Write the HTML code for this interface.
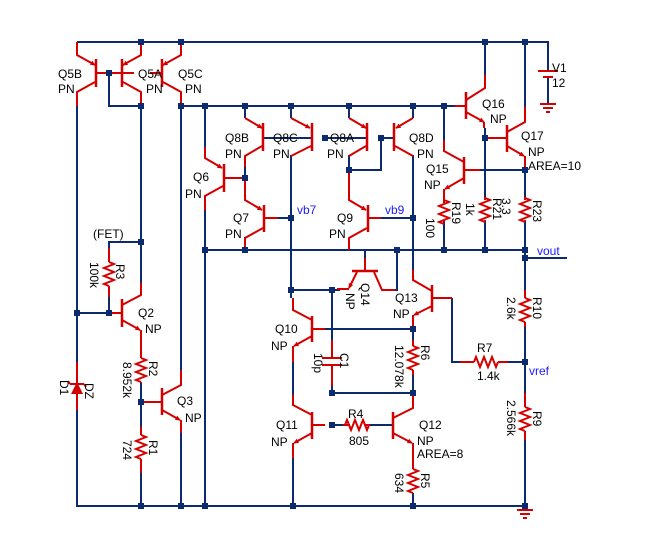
<!DOCTYPE html>
<html><head><meta charset="utf-8"><style>
html,body{margin:0;padding:0;background:#fff}
svg{display:block}
text{font-family:"Liberation Sans",Arial,sans-serif;font-size:12px;fill:#000}
.b{fill:none;stroke:#0c2a6e;stroke-width:2}
.r{fill:none;stroke:#d40000;stroke-width:2}
.bar{stroke:#d40000;stroke-width:2.5}
.l{fill:#1a1aff}
</style></head><body>
<svg width="650" height="550" viewBox="0 0 650 550" xmlns="http://www.w3.org/2000/svg">
<defs>
<marker id="a" viewBox="0 0 10 10" refX="9" refY="5" markerWidth="5" markerHeight="5" orient="auto" markerUnits="userSpaceOnUse"><path d="M0,0 L10,5 L0,10z" fill="#d40000"/></marker>
<path id="rv" d="M0,0 l5,2 l-10,4 l10,4 l-10,4 l10,4 l-10,4 l5,2" fill="none" stroke="#d40000" stroke-width="2"/>
<path id="rh" d="M0,0 l2,-5 l4,10 l4,-10 l4,10 l4,-10 l4,10 l2,-5" fill="none" stroke="#d40000" stroke-width="2"/>
<rect id="j" x="-3" y="-3" width="6" height="6" fill="#0c2a6e"/>
</defs>

<!-- blue wires -->
<path class="b" d="M77,42 H548 V71 M548,77 V104
M77,106 V506 H525 V510
M109,73 V106 H141 M141,106 V283 M141,242 H109 V248
M181,92 V370 M181,433 V506
M181,106 H455
M205,106 V147 M205,210 V506
M245,106 V118 M291,106 V118 M349,106 V118 M413,106 V118
M245,167 V200 M245,237 V250
M205,250 H525
M291,155 V298 M291,290 H340 M332,290 V340 M332,386 V393 H413 M332,425 H343 M370,425 H393
M349,155 V200 M349,170 H381 V138 M381,138 H394 M325,138 H367 M263,138 H312
M278,218 H291 M381,218 H413 M413,155 V280
M293,362 V395 M293,458 V506
M325,329 H413 M413,329 V340 M413,375 V393 M413,458 V469 M413,493 V506
M452,298 V362 H460 M508,362 H525
M525,258 H567 M525,250 V290 M525,327 V393 M525,440 V506
M365,250 V258 M395,290 H397 V250
M485,42 V75 M485,128 V197 M485,222 V250 M525,42 V107 M525,168 V197 M525,222 V258
M444,106 V140 M444,222 V250 M480,170 H525
M109,297 V313 M77,313 H109 M77,313 V362 M77,410 V506
M141,402 V427 M141,473 V506 M141,383 V402
"/>
<!-- ground symbols -->
<path class="r" d="M540,104 H556 M543,108 H553 M546,112 H550 M517,510 H533 M520,514 H530 M523,518 H527"/>
<!-- V1 -->
<path class="r" d="M538,71 H558 M543,77 H553"/>
<path class="b" d="M548,71 V77" style="stroke:none"/>

<!-- transistors (red) -->
<g class="r">
<!-- Q5B -->
<path d="M77,42 V55 L95,65" marker-end="url(#a)"/><path d="M95,82 L77,92 V106"/><path d="M96,73 H109"/>
<!-- Q5A -->
<path d="M141,42 V55 L123,65" marker-end="url(#a)"/><path d="M123,82 L141,92 V106"/>
<!-- Q5C -->
<path d="M181,42 V55 L163,65" marker-end="url(#a)"/><path d="M163,82 L181,92 V106"/>
<path d="M109,73 H122 M122,73 H134 M150,73 H162"/>
<!-- Q8B -->
<path d="M245,118 L262,128" marker-end="url(#a)"/><path d="M262,146 L245,156 V167"/>
<!-- Q8C -->
<path d="M291,118 L310,128" marker-end="url(#a)"/><path d="M311,146 L291,156"/>
<!-- Q8A -->
<path d="M349,118 L366,128" marker-end="url(#a)"/><path d="M366,146 L349,156"/>
<!-- Q8D -->
<path d="M413,118 L396,128" marker-end="url(#a)"/><path d="M395,146 L413,156"/>
<!-- Q6 -->
<path d="M205,147 V158 L222,168" marker-end="url(#a)"/><path d="M223,186 L205,196 V210"/><path d="M224,178 H245"/>
<!-- Q7 -->
<path d="M245,178 V200 L262,210" marker-end="url(#a)"/><path d="M263,228 L245,238 V250"/><path d="M264,218 H278"/>
<!-- Q9 -->
<path d="M349,170 V200 L366,210" marker-end="url(#a)"/><path d="M367,228 L349,238 V250"/><path d="M368,218 H381"/>
<!-- Q16 -->
<path d="M485,75 V88 L466,100"/><path d="M466,112 L484,122" marker-end="url(#a)"/><path d="M484,122 V128"/><path d="M455,106 H466"/>
<!-- Q17 -->
<path d="M525,107 V122 L507,132"/><path d="M507,146 L524,156" marker-end="url(#a)"/><path d="M525,156 V168"/><path d="M485,138 H507"/>
<!-- Q15 -->
<path d="M444,140 V151 L464,162"/><path d="M464,178 L445,189" marker-end="url(#a)"/><path d="M444,189 V197"/><path d="M464,170 H480"/>
<!-- Q14 -->
<path d="M365,258 V271"/><path d="M357,272 L349,288" marker-end="url(#a)"/><path d="M349,289 H337"/><path d="M374,272 L382,290 H395"/>
<!-- Q13 -->
<path d="M413,270 V280 L432,291"/><path d="M432,306 L414,315" marker-end="url(#a)"/><path d="M413,315 V329"/><path d="M432,298 H452"/>
<!-- Q10 -->
<path d="M293,298 V310 L312,320"/><path d="M312,336 L294,346" marker-end="url(#a)"/><path d="M293,346 V362"/><path d="M312,329 H325"/>
<!-- Q11 -->
<path d="M293,395 V405 L312,415"/><path d="M312,433 L294,443" marker-end="url(#a)"/><path d="M293,443 V458"/><path d="M312,425 H325"/>
<!-- Q12 -->
<path d="M393,418 L413,408 V393"/><path d="M393,433 L412,443" marker-end="url(#a)"/><path d="M413,443 V458 M413,458 V469"/>
<!-- Q2 -->
<path d="M141,283 V295 L122,305"/><path d="M122,320 L140,330" marker-end="url(#a)"/><path d="M141,330 V358"/><path d="M109,313 H122"/>
<!-- Q3 -->
<path d="M181,370 V385 L162,395"/><path d="M162,410 L180,420" marker-end="url(#a)"/><path d="M181,420 V433"/><path d="M141,402 H162"/>
<!-- C1 -->
<path d="M332,340 V358 M322,358 H342 M322,365 H342 M332,365 V386"/>
<!-- D1 -->
<path d="M77,362 V410 M70,384 H84 M70,384 l-2,-3 M84,384 l2,3"/>
<!-- resistor leads -->
<path d="M109,248 V262 M109,286 V297 M141,382 V383 M141,427 V435 M141,459 V473 M525,290 V298 M525,322 V327 M525,393 V407 M525,431 V440 M413,340 V346 M413,370 V375 M460,362 H474 M498,362 H508 M343,425 H350 M365,425 H370 M444,197 V203 M444,220 V222 M485,197 V200 M485,220 V222 M525,197 V200 M525,220 V222"/>
</g>
<path d="M71,394 H83 L77,382z" fill="#d40000"/>
<!-- bars -->
<g class="bar">
<path d="M96,59 V87 M122,59 V87 M162,59 V87 M263,123 V151 M312,123 V151 M367,123 V151 M394,123 V151
M224,164 V192 M264,205 V232 M368,205 V232 M466,92 V119 M507,125 V152 M464,157 V184
M352,271 H378 M432,285 V312 M312,316 V342 M312,412 V439 M393,412 V439 M122,299 V327 M162,388 V415"/>
</g>
<!-- resistors -->
<use href="#rv" x="109" y="262"/>
<use href="#rv" x="141" y="358"/>
<use href="#rv" x="141" y="435"/>
<use href="#rv" x="444" y="200"/>
<use href="#rv" x="485" y="198"/>
<use href="#rv" x="525" y="198"/>
<use href="#rv" x="525" y="298"/>
<use href="#rv" x="525" y="407"/>
<use href="#rv" x="413" y="346"/>
<use href="#rv" x="413" y="469"/>
<use href="#rh" x="474" y="362"/>
<use href="#rh" x="345" y="425"/>
<!-- junctions -->
<g>
<use href="#j" x="141" y="42"/><use href="#j" x="181" y="42"/><use href="#j" x="485" y="42"/><use href="#j" x="525" y="42"/>
<use href="#j" x="109" y="73"/><use href="#j" x="141" y="106"/><use href="#j" x="181" y="106"/><use href="#j" x="205" y="106"/><use href="#j" x="245" y="106"/><use href="#j" x="291" y="106"/><use href="#j" x="349" y="106"/><use href="#j" x="413" y="106"/><use href="#j" x="444" y="106"/>
<use href="#j" x="325" y="138"/><use href="#j" x="381" y="138"/><use href="#j" x="485" y="138"/><use href="#j" x="349" y="170"/><use href="#j" x="525" y="170"/><use href="#j" x="245" y="178"/>
<use href="#j" x="291" y="218"/><use href="#j" x="413" y="218"/><use href="#j" x="141" y="242"/>
<use href="#j" x="205" y="250"/><use href="#j" x="245" y="250"/><use href="#j" x="397" y="250"/><use href="#j" x="444" y="250"/><use href="#j" x="485" y="250"/><use href="#j" x="525" y="250"/><use href="#j" x="525" y="258"/>
<use href="#j" x="291" y="290"/><use href="#j" x="332" y="290"/><use href="#j" x="77" y="313"/><use href="#j" x="109" y="313"/><use href="#j" x="413" y="329"/><use href="#j" x="525" y="362"/>
<use href="#j" x="141" y="402"/><use href="#j" x="332" y="393"/><use href="#j" x="413" y="393"/><use href="#j" x="332" y="425"/>
<use href="#j" x="141" y="506"/><use href="#j" x="181" y="506"/><use href="#j" x="205" y="506"/><use href="#j" x="293" y="506"/><use href="#j" x="413" y="506"/><use href="#j" x="525" y="506"/>
</g>
<!-- labels -->
<text x="58" y="78">Q5B</text><text x="58" y="93">PN</text>
<text x="138" y="78">Q5A</text><text x="146" y="93">PN</text>
<text x="178" y="78">Q5C</text><text x="185" y="93">PN</text>
<text x="225" y="142">Q8B</text><text x="225" y="158">PN</text>
<text x="273" y="142">Q8C</text><text x="273" y="158">PN</text>
<text x="330" y="142">Q8A</text><text x="327" y="158">PN</text>
<text x="409" y="142">Q8D</text><text x="417" y="158">PN</text>
<text x="193" y="181">Q6</text><text x="185" y="198">PN</text>
<text x="233" y="222">Q7</text><text x="225" y="238">PN</text>
<text x="337" y="222">Q9</text><text x="329" y="238">PN</text>
<text class="l" x="297" y="214">vb7</text><text class="l" x="385" y="214">vb9</text>
<text x="482" y="108">Q16</text><text x="490" y="123">NP</text>
<text x="521" y="140">Q17</text><text x="528" y="156">NP</text><text x="528" y="170">AREA=10</text>
<text x="426" y="173">Q15</text><text x="424" y="189">NP</text>
<text class="l" x="537" y="255">vout</text>
<text x="93" y="238">(FET)</text>
<text x="138" y="317">Q2</text><text x="145" y="333">NP</text>
<text x="177" y="405">Q3</text><text x="185" y="422">NP</text>
<text x="275" y="333">Q10</text><text x="271" y="350">NP</text>
<text x="276" y="429">Q11</text><text x="271" y="446">NP</text>
<text x="395" y="302">Q13</text><text x="393" y="318">NP</text>
<text x="419" y="429">Q12</text><text x="417" y="445">NP</text><text x="417" y="458">AREA=8</text>
<text x="348" y="418">R4</text><text x="349" y="445">805</text>
<text x="477" y="352">R7</text><text x="477" y="380">1.4k</text>
<text class="l" x="529" y="375">vref</text>
<text x="552" y="72">V1</text><text x="552" y="87">12</text>
<!-- rotated labels -->
<g>
<text transform="translate(116,264) rotate(90)">R3</text><text transform="translate(90,262) rotate(90)">100k</text>
<text transform="translate(149,361) rotate(90)">R2</text><text transform="translate(123,362) rotate(90)">8.952k</text>
<text transform="translate(149,440) rotate(90)">R1</text><text transform="translate(123,440) rotate(90)">724</text>
<text transform="translate(85,383) rotate(90)">DZ</text><text transform="translate(60,380) rotate(90)">D1</text>
<text transform="translate(452,202) rotate(90)">R19</text><text transform="translate(426,218) rotate(90)">100</text>
<text transform="translate(493,198) rotate(90)">R21</text><text transform="translate(502,198) rotate(90)">3.3</text><text transform="translate(466,203) rotate(90)">1k</text>
<text transform="translate(533,200) rotate(90)">R23</text>
<text transform="translate(533,297) rotate(90)">R10</text><text transform="translate(507,297) rotate(90)">2.6k</text>
<text transform="translate(533,411) rotate(90)">R9</text><text transform="translate(507,400) rotate(90)">2.566k</text>
<text transform="translate(421,345) rotate(90)">R6</text><text transform="translate(395,345) rotate(90)">12.078k</text>
<text transform="translate(421,473) rotate(90)">R5</text><text transform="translate(395,473) rotate(90)">634</text>
<text transform="translate(340,353) rotate(90)">C1</text><text transform="translate(314,353) rotate(90)">10p</text>
<text transform="translate(361,283) rotate(90)">Q14</text><text transform="translate(346,293) rotate(90)">NP</text>
</g>
</svg>
</body></html>
